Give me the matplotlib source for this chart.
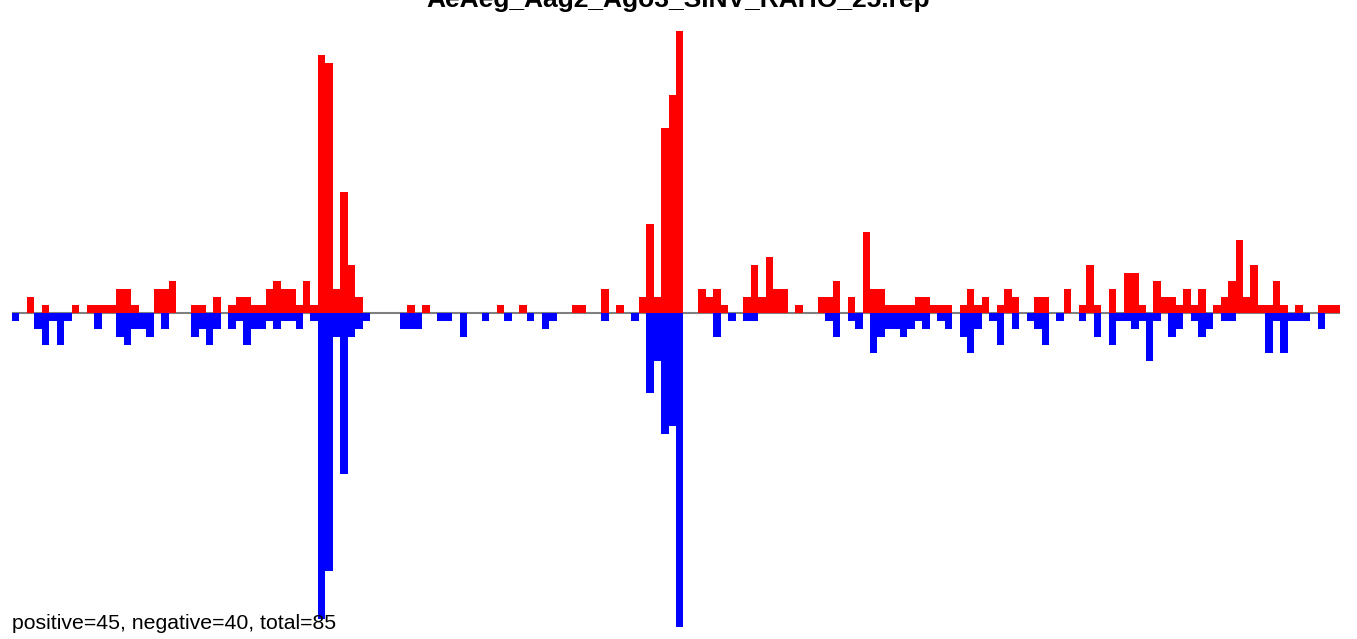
import matplotlib
matplotlib.use("Agg")
import matplotlib.pyplot as plt
import numpy as np

title = "AeAeg_Aag2_Ago3_SINV_RAHO_25.rep"
summary = "positive=45, negative=40, total=85"

# read counts per position (178 bins), positive strand up, negative strand down
positive = [
    0, 0, 2, 0, 1, 0, 0, 0, 1, 0, 1, 1, 1, 1, 3, 3, 1, 0, 0, 3,
    3, 4, 0, 0, 1, 1, 0, 2, 0, 1, 2, 2, 1, 1, 3, 4, 3, 3, 1, 4,
    1, 32, 31, 3, 15, 6, 2, 0, 0, 0, 0, 0, 0, 1, 0, 1, 0, 0, 0, 0,
    0, 0, 0, 0, 0, 1, 0, 0, 1, 0, 0, 0, 0, 0, 0, 1, 1, 0, 0, 3,
    0, 1, 0, 0, 2, 11, 2, 23, 27, 35, 0, 0, 3, 2, 3, 1, 0, 0, 2, 6,
    2, 7, 3, 3, 0, 1, 0, 0, 2, 2, 4, 0, 2, 0, 10, 3, 3, 1, 1, 1,
    1, 2, 2, 1, 1, 1, 0, 1, 3, 1, 2, 0, 1, 3, 2, 0, 0, 2, 2, 0,
    0, 3, 0, 1, 6, 1, 0, 3, 0, 5, 5, 1, 0, 4, 2, 2, 1, 3, 1, 3,
    0, 1, 2, 4, 9, 2, 6, 1, 1, 4, 1, 0, 1, 0, 0, 1, 1, 1,
]
negative = [
    1, 0, 0, 2, 4, 1, 4, 1, 0, 0, 0, 2, 0, 0, 3, 4, 2, 2, 3, 0,
    2, 0, 0, 0, 3, 2, 4, 2, 0, 2, 1, 4, 2, 2, 1, 2, 1, 1, 2, 0,
    1, 38, 32, 3, 20, 3, 2, 1, 0, 0, 0, 0, 2, 2, 2, 0, 0, 1, 1, 0,
    3, 0, 0, 1, 0, 0, 1, 0, 0, 1, 0, 2, 1, 0, 0, 0, 0, 0, 0, 1,
    0, 0, 0, 1, 0, 10, 6, 15, 14, 39, 0, 0, 0, 0, 3, 0, 1, 0, 1, 1,
    0, 0, 0, 0, 0, 0, 0, 0, 0, 1, 3, 0, 1, 2, 0, 5, 3, 2, 2, 3,
    2, 1, 2, 0, 1, 2, 0, 3, 5, 2, 0, 1, 4, 0, 2, 0, 1, 2, 4, 0,
    1, 0, 0, 1, 0, 3, 0, 4, 1, 1, 2, 1, 6, 1, 0, 3, 2, 0, 1, 3,
    2, 0, 1, 1, 0, 0, 0, 0, 5, 1, 5, 1, 1, 1, 0, 2, 0, 0,
]


def draw(path):
    W, H = 1357, 639
    fig = plt.figure(figsize=(W / 100, H / 100), dpi=100)
    ax = fig.add_axes([12 / W, (H - 627) / H, 1328 / W, 596 / H])

    pos = np.array(positive)
    neg = np.array(negative)
    x = np.arange(len(pos))

    ax.axhline(0, color="#808080", lw=1.5, zorder=1)
    ax.bar(x, pos, width=1, align="edge", color="#ff0000", linewidth=0, zorder=2)
    ax.bar(x, -neg, width=1, align="edge", color="#0000ff", linewidth=0, zorder=2)

    ax.set_xlim(0, len(pos))
    ax.set_ylim(-neg.max(), pos.max())
    ax.axis("off")

    # title sits partly above the canvas, as in the original
    fig.text(0.5, (H - 7.5) / H, title, ha="center", va="baseline",
             fontsize=19, fontweight="bold", family="Liberation Sans")
    fig.text(12 / W, (H - 629) / H, summary, ha="left", va="baseline",
             fontsize=15.3, family="Liberation Sans")

    fig.savefig(path, dpi=100)


if __name__ == "__main__":
    draw("out.png")
